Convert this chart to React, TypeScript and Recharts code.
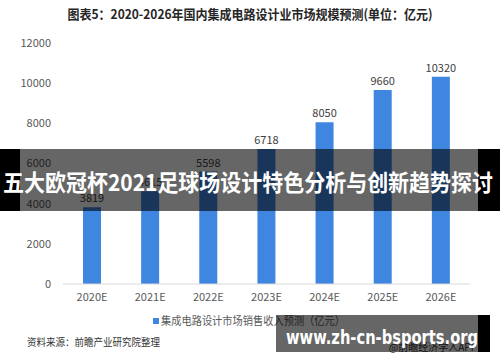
import { BarChart, Bar, XAxis, YAxis, LabelList } from 'recharts';

const years = ['2020E', '2021E', '2022E', '2023E', '2024E', '2025E', '2026E'];
const revenue = [3819, 4615, 5598, 6718, 8050, 9660, 10320];
const yTicks = [0, 2000, 4000, 6000, 8000, 10000, 12000];

const data = years.map((year, i) => ({ year, value: revenue[i] }));

const FONT = '"Noto Sans CJK SC", "Noto Sans", sans-serif';
const BAR_COLOR = '#3f86e0';

export default function App() {
  return (
    <div style={{ position: 'absolute', left: 0, top: 0, width: 500, height: 362, background: '#fff', fontFamily: FONT }}>
      <BarChart
        width={500}
        height={362}
        data={data}
        margin={{ top: 43, right: 30, bottom: 48, left: 10 }}
        barSize={18}
      >
        <XAxis
          dataKey="year"
          height={30}
          axisLine={{ stroke: '#d9d9d9' }}
          tickLine={false}
          tickSize={0}
          tickMargin={9}
          tick={{ fill: '#595959', fontSize: 11, fontFamily: FONT }}
        />
        <YAxis
          width={53}
          domain={[0, 12000]}
          ticks={yTicks}
          axisLine={false}
          tickLine={false}
          tickSize={0}
          tickMargin={12}
          tick={{ fill: '#595959', fontSize: 11, fontFamily: FONT }}
        />
        <Bar dataKey="value" fill={BAR_COLOR} isAnimationActive={false}>
          <LabelList dataKey="value" position="top" offset={5} fill="#404040" fontSize={11} fontFamily={FONT} />
        </Bar>
      </BarChart>

      <svg width={500} height={362} style={{ position: 'absolute', left: 0, top: 0, pointerEvents: 'none' }}>
        <text x={250} y={19} textAnchor="middle" fontSize={13} fontWeight="bold" fill="#262626" fontFamily={FONT} textLength={365} lengthAdjust="spacingAndGlyphs">
          图表5：2020-2026年国内集成电路设计业市场规模预测(单位：亿元)
        </text>

        {/* legend */}
        <rect x={153} y={318} width={6} height={6} fill={BAR_COLOR} />
        <text x={161} y={325} fontSize={11.5} fill="#595959" fontFamily={FONT} textLength={184} lengthAdjust="spacingAndGlyphs">
          集成电路设计市场销售收入预测（亿元）
        </text>

        <text x={27} y={346} fontSize={10} fill="#333" fontFamily={FONT} textLength={133} lengthAdjust="spacingAndGlyphs">
          资料来源：前瞻产业研究院整理
        </text>
        <text x={477} y={351} textAnchor="end" fontSize={10} fill="#333" fontFamily={FONT}>
          @前瞻经济学人APP
        </text>

        {/* overlay banner */}
        <rect x={0} y={149} width={20} height={62} fill="#000" />
        <rect x={478} y={149} width={22} height={62} fill="#000" />
        <rect x={20} y={149} width={458} height={62} fill="rgba(0,0,0,0.6)" />
        <text x={3} y={191} fontSize={23} fontWeight="bold" fill="#fff" fontFamily={FONT} textLength={490} lengthAdjust="spacingAndGlyphs">
          五大欧冠杯2021足球场设计特色分析与创新趋势探讨
        </text>

        {/* bottom watermark */}
        <rect x={478} y={315} width={12} height={37} fill="#000" />
        <rect x={276} y={315} width={202} height={37} fill="rgba(0,0,0,0.6)" />
        <text x={286} y={344} fontSize={20} fontWeight="bold" fill="#fff" fontFamily='"DejaVu Sans", sans-serif' textLength={192} lengthAdjust="spacingAndGlyphs">
          www.zh-cn-bsports.org
        </text>
      </svg>
    </div>
  );
}
